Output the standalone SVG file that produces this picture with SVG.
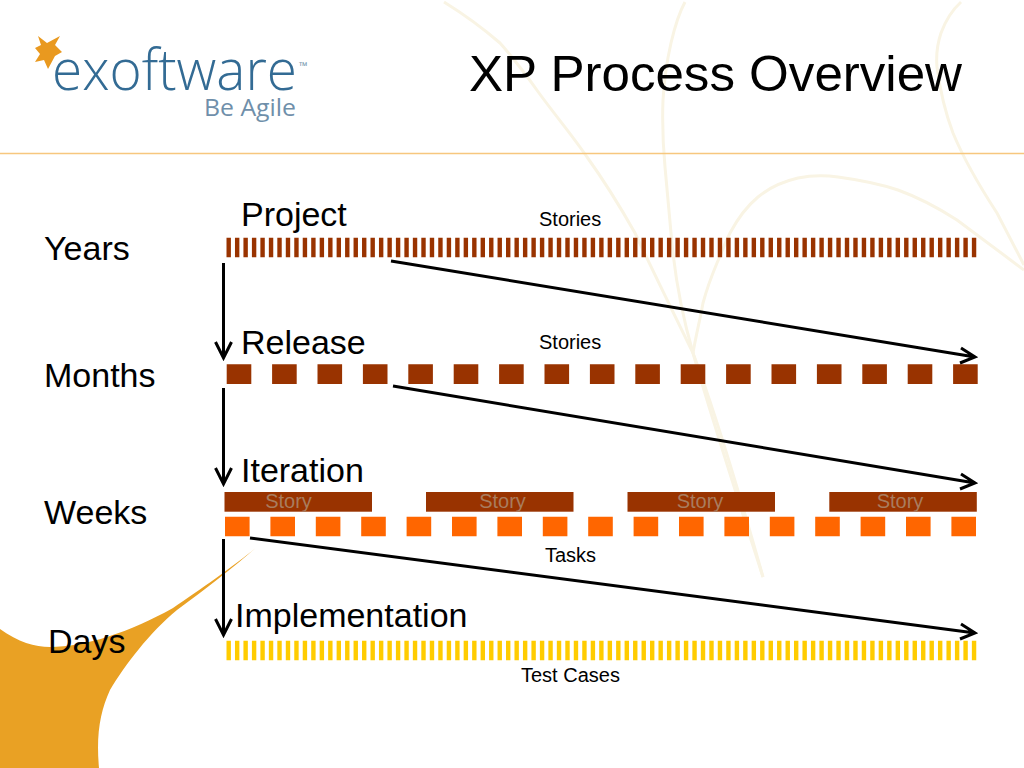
<svg xmlns="http://www.w3.org/2000/svg" width="1024" height="768" viewBox="0 0 1024 768">
<style>
text{font-family:"Liberation Sans",Arial,sans-serif;fill:#000}
.lbl{font-size:34px}
.small{font-size:20px}
.story{font-size:20px;fill:#a97c5e;text-anchor:middle}
.bar{fill:#993300}
.conn{fill:none;stroke:#000;stroke-width:3}
.bg{fill:none;stroke:#f9f4e4;stroke-width:3}
</style>
<rect width="1024" height="768" fill="#fff"/>
<g id="background">
<path class="bg" d="M444 2C465 15 485 30 500 43C515 60 527 76 539 93C555 115 572 135 587 157C605 182 622 210 635 233C650 265 672 310 693 353C705 385 730 460 763 577"/>
<path class="bg" d="M685 2C678 15 674 30 671 43C666 65 664 82 663 100C662 125 663 145 665 167C667 190 669 212 671 233C674 270 682 315 693 353C705 395 735 490 763 577"/>
<path class="bg" d="M961 2C950 12 945 22 941 33C937 45 936 56 937 67C940 90 945 112 953 133C965 162 982 190 997 213L1024 265"/>
<path class="bg" d="M693 353C696 335 700 320 703 303C707 288 712 275 717 263C722 252 725 243 730 233C738 218 746 207 758 197C770 187 785 181 798 178C812 175 825 175 838 177C860 180 880 184 898 190C920 198 940 209 957 220L1024 270"/>
<path d="M0 629C18 642 35 647 50 647C85 647 130 632 173 608C200 590 235 565 257 547C235 566 205 590 177 610C150 632 125 665 110 690C100 712 96 735 99 768L0 768Z" fill="#e9a124"/>
<path d="M0 153.500H1024" stroke="#f7c77e" stroke-width="1.500"/>
</g>
<g id="logo">
<path d="M38 36L47 43L60 36L55 45L62 52L55 56L48 69L44 60L35 62L40 54L35 48L41 45Z" fill="#e9991f"/>
<text x="52" y="90" style="font-family:'Open Sans',sans-serif;font-size:57px;font-weight:300;fill:#336b94" textLength="245" lengthAdjust="spacingAndGlyphs">exoftware</text>
<text x="299" y="70" style="font-family:'Open Sans',sans-serif;font-size:11px;fill:#6f93ab">™</text>
<text x="204" y="116" style="font-family:'Open Sans',sans-serif;font-size:24px;fill:#6f8faa" textLength="92" lengthAdjust="spacingAndGlyphs">Be Agile</text>
</g>
<g id="title"><text x="469" y="91" font-size="49.500" textLength="493" lengthAdjust="spacingAndGlyphs">XP Process Overview</text></g>
<g id="timescales">
<text class="lbl" x="44" y="260">Years</text>
<text class="lbl" x="44" y="387">Months</text>
<text class="lbl" x="44" y="524">Weeks</text>
<text class="lbl" x="48" y="653">Days</text>
</g>
<g id="project">
<text class="lbl" x="241" y="226">Project</text>
<text class="small" x="539" y="226">Stories</text>
<path d="M226.500 247.500H977.500" stroke="#993300" stroke-width="19.500" stroke-dasharray="4.400 4.070"/>
</g>
<g id="release">
<text class="lbl" x="241" y="354">Release</text>
<text class="small" x="539" y="349">Stories</text>
<path d="M226.700 374.200H978" stroke="#993300" stroke-width="19.700" stroke-dasharray="24.600 20.800"/>
</g>
<g id="iteration">
<text class="lbl" x="241" y="482">Iteration</text>
<rect class="bar" x="224.500" y="492" width="147.500" height="19.700"/>
<rect class="bar" x="426" y="492" width="147.500" height="19.700"/>
<rect class="bar" x="627.500" y="492" width="147.500" height="19.700"/>
<rect class="bar" x="829.300" y="492" width="147.500" height="19.700"/>
<text class="story" x="288.500" y="508">Story</text>
<text class="story" x="502.500" y="508">Story</text>
<text class="story" x="700" y="508">Story</text>
<text class="story" x="900" y="508">Story</text>
<path d="M225 526.500H977" stroke="#ff6600" stroke-width="19.700" stroke-dasharray="24.600 20.800"/>
<text class="small" x="545" y="562">Tasks</text>
</g>
<g id="implementation">
<text class="lbl" x="235" y="627">Implementation</text>
<path d="M226.500 650.500H977.500" stroke="#ffcc00" stroke-width="19.500" stroke-dasharray="4.400 4.070"/>
<text class="small" x="521" y="682">Test Cases</text>
</g>
<g id="connectors">
<path class="conn" d="M223.500 263V358M215.500 342L223.500 358L231.500 342"/>
<path class="conn" d="M223.500 388V484M215.500 468L223.500 484L231.500 468"/>
<path class="conn" d="M223.500 539V635M215.500 619L223.500 635L231.500 619"/>
<path class="conn" d="M391 261L975 357M961 348L975 357L960 363"/>
<path class="conn" d="M393 386L975 483M961 474L975 483L960 489"/>
<path class="conn" d="M250 538L975 633M961 624L975 633L960 639"/>
</g>
</svg>
